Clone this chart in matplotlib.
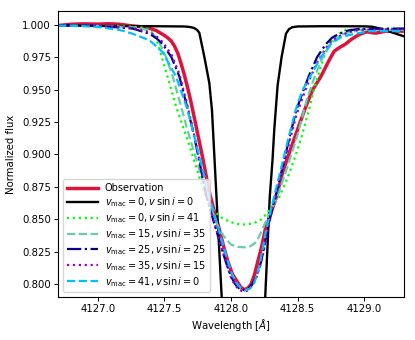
import matplotlib
matplotlib.use("Agg")
import matplotlib.pyplot as plt

# ---------------- data ----------------
wl_obs = [4126.70, 4126.80, 4126.90, 4127.00, 4127.08, 4127.16, 4127.26, 4127.33, 4127.387,
          4127.437, 4127.487, 4127.52, 4127.55, 4127.575, 4127.60, 4127.625, 4127.65, 4127.675,
          4127.70, 4127.737, 4127.787, 4127.837, 4127.875, 4127.912, 4127.945, 4127.975,
          4128.01, 4128.05, 4128.075, 4128.10, 4128.125, 4128.15, 4128.175, 4128.20, 4128.23,
          4128.257, 4128.30, 4128.337, 4128.387, 4128.43, 4128.475, 4128.52, 4128.563,
          4128.612, 4128.675, 4128.737, 4128.775, 4128.82, 4128.86, 4128.902, 4128.94,
          4128.977, 4129.022, 4129.06, 4129.09, 4129.14, 4129.187, 4129.24, 4129.30]
fl_obs = [0.9993, 1.0003, 1.0006, 1.0004, 1.0007, 1.0003, 0.9990, 0.9983, 0.9972,
          0.9955, 0.9925, 0.9902, 0.9875, 0.9835, 0.978, 0.970, 0.961, 0.951,
          0.940, 0.922, 0.8975, 0.871, 0.856, 0.8425, 0.829, 0.818,
          0.808, 0.8015, 0.7975, 0.7960, 0.7968, 0.800, 0.807, 0.817, 0.829,
          0.842, 0.855, 0.866, 0.886, 0.899, 0.912, 0.925, 0.937,
          0.9495, 0.960, 0.9725, 0.9795, 0.9827, 0.985, 0.9885, 0.991,
          0.993, 0.9945, 0.9938, 0.9935, 0.9945, 0.9952, 0.9950, 0.9950]

wl_m00_0 = [4126.70, 4127.00, 4127.40, 4127.65, 4127.69, 4127.72, 4127.745, 4127.762, 4127.80,
            4127.837, 4127.857, 4127.875, 4127.93, 4127.97, 4128.02, 4128.09, 4128.16, 4128.21,
            4128.257, 4128.291, 4128.312, 4128.325, 4128.350, 4128.38, 4128.413, 4128.435,
            4128.46, 4128.50, 4128.70, 4129.00, 4129.06, 4129.12, 4129.18, 4129.24, 4129.30]
fl_m00_0 = [0.9995, 0.999, 0.9988, 0.9986, 0.9982, 0.9975, 0.996, 0.9937, 0.975,
            0.955, 0.934, 0.8985, 0.79, 0.70, 0.60, 0.55, 0.60, 0.70,
            0.79, 0.867, 0.896, 0.919, 0.953, 0.975, 0.993, 0.9965,
            0.998, 0.9986, 0.9988, 0.9987, 0.9984, 0.997, 0.995, 0.993, 0.991]

wl_m00_41 = [4126.70, 4127.012, 4127.26, 4127.35, 4127.387, 4127.41, 4127.437, 4127.46, 4127.487,
             4127.537, 4127.587, 4127.650, 4127.700, 4127.725, 4127.76, 4127.800, 4127.835,
             4127.875, 4127.935, 4127.995, 4128.05, 4128.113, 4128.17, 4128.227, 4128.26,
             4128.300, 4128.362, 4128.425, 4128.488, 4128.537, 4128.587, 4128.625, 4128.670,
             4128.70, 4128.725, 4128.775, 4128.82, 4128.863, 4129.30]
fl_m00_41 = [0.9993, 0.999, 0.9985, 0.9975, 0.996, 0.9935, 0.989, 0.982, 0.9725,
             0.955, 0.937, 0.918, 0.903, 0.8945, 0.883, 0.870, 0.862,
             0.856, 0.851, 0.848, 0.8465, 0.846, 0.847, 0.850, 0.8535,
             0.859, 0.867, 0.882, 0.900, 0.916, 0.935, 0.951, 0.966,
             0.976, 0.9825, 0.990, 0.9935, 0.996, 0.997]

wl_m15_35 = [4126.70, 4127.012, 4127.26, 4127.34, 4127.387, 4127.43, 4127.462, 4127.512, 4127.562,
             4127.625, 4127.672, 4127.747, 4127.822, 4127.87, 4127.912, 4127.96, 4128.002,
             4128.05, 4128.113, 4128.15, 4128.182, 4128.21, 4128.235, 4128.287, 4128.347,
             4128.422, 4128.497, 4128.572, 4128.625, 4128.685, 4128.750, 4128.80, 4128.850,
             4128.962, 4129.30]
fl_m15_35 = [0.9993, 0.999, 0.998, 0.9968, 0.995, 0.991, 0.986, 0.975, 0.960,
             0.937, 0.919, 0.8935, 0.868, 0.853, 0.8425, 0.835, 0.8305,
             0.8288, 0.8285, 0.8295, 0.832, 0.8365, 0.8425, 0.854, 0.867,
             0.890, 0.914, 0.943, 0.959, 0.974, 0.985, 0.990, 0.993,
             0.996, 0.996]

wl_m25_25 = [4126.70, 4127.012, 4127.26, 4127.387, 4127.44, 4127.487, 4127.552, 4127.612, 4127.674,
             4127.717, 4127.762, 4127.812, 4127.850, 4127.887, 4127.925, 4127.962, 4128.00,
             4128.032, 4128.065, 4128.100, 4128.130, 4128.160, 4128.19, 4128.225, 4128.250,
             4128.272, 4128.300, 4128.332, 4128.392, 4128.437, 4128.490, 4128.550, 4128.587,
             4128.647, 4128.713, 4128.76, 4128.812, 4128.88, 4128.962, 4129.30]
fl_m25_25 = [0.9995, 0.999, 0.997, 0.993, 0.9895, 0.985, 0.975, 0.960, 0.935,
             0.917, 0.895, 0.869, 0.855, 0.8425, 0.829, 0.817, 0.806,
             0.800, 0.7965, 0.7955, 0.7965, 0.800, 0.806, 0.817, 0.829,
             0.841, 0.854, 0.867, 0.892, 0.912, 0.934, 0.951, 0.961,
             0.975, 0.985, 0.990, 0.993, 0.9955, 0.9967, 0.997]

wl_m35_15 = [4126.70, 4127.012, 4127.26, 4127.387, 4127.44, 4127.487, 4127.552, 4127.612, 4127.674,
             4127.717, 4127.762, 4127.812, 4127.850, 4127.887, 4127.925, 4127.962, 4128.00,
             4128.032, 4128.065, 4128.100, 4128.130, 4128.160, 4128.19, 4128.225, 4128.250,
             4128.272, 4128.300, 4128.332, 4128.392, 4128.437, 4128.490, 4128.550, 4128.587,
             4128.647, 4128.713, 4128.76, 4128.812, 4128.88, 4128.962, 4129.30]
fl_m35_15 = [0.9995, 0.999, 0.9975, 0.994, 0.991, 0.9865, 0.977, 0.962, 0.937,
             0.918, 0.896, 0.870, 0.856, 0.843, 0.829, 0.817, 0.805,
             0.799, 0.7955, 0.7942, 0.7955, 0.799, 0.805, 0.816, 0.828,
             0.840, 0.853, 0.866, 0.890, 0.909, 0.930, 0.947, 0.957,
             0.971, 0.982, 0.988, 0.991, 0.994, 0.996, 0.9965]

wl_m41_0 = [4126.70, 4126.862, 4127.012, 4127.162, 4127.26, 4127.387, 4127.485, 4127.587,
            4127.672, 4127.762, 4127.837, 4127.905, 4127.972, 4128.005, 4128.040, 4128.075,
            4128.107, 4128.140, 4128.175, 4128.212, 4128.240, 4128.265, 4128.325, 4128.385,
            4128.425, 4128.488, 4128.537, 4128.610, 4128.677, 4128.750, 4128.82, 4128.887,
            4129.037, 4129.30]
fl_m41_0 = [0.9993, 0.999, 0.998, 0.996, 0.993, 0.988, 0.979, 0.960,
            0.935, 0.8985, 0.868, 0.843, 0.819, 0.8085, 0.801, 0.797,
            0.7955, 0.7965, 0.801, 0.8135, 0.828, 0.8425, 0.868, 0.893,
            0.910, 0.935, 0.9495, 0.963, 0.975, 0.985, 0.990, 0.992,
            0.995, 0.995]

labels = ["Observation",
          r"$v_{\rm mac}=0, v\,\sin i=0$",
          r"$v_{\rm mac}=0, v\,\sin i=41$",
          r"$v_{\rm mac}=15, v\,\sin i=35$",
          r"$v_{\rm mac}=25, v\,\sin i=25$",
          r"$v_{\rm mac}=35, v\,\sin i=15$",
          r"$v_{\rm mac}=41, v\,\sin i=0$"]
xticks = [4127.0, 4127.5, 4128.0, 4128.5, 4129.0]
yticks = [0.800, 0.825, 0.850, 0.875, 0.900, 0.925, 0.950, 0.975, 1.000]

# ---------------- plot ----------------
plt.rcParams['font.family'] = ['DejaVu Sans']
fs = 7.3
fig = plt.figure(figsize=(4.15, 3.4), dpi=100)
ax = fig.add_axes([0.1398, 0.1256, 0.9735 - 0.1398, 0.9676 - 0.1256])

ax.plot(wl_obs, fl_obs, color='crimson', lw=2.5, label=labels[0])
ax.plot(wl_m00_0, fl_m00_0, color='black', lw=1.7, label=labels[1])
ax.plot(wl_m00_41, fl_m00_41, color='lime', lw=1.6, ls=':', label=labels[2])
ax.plot(wl_m15_35, fl_m15_35, color='mediumaquamarine', lw=1.6, ls='--', label=labels[3])
ax.plot(wl_m25_25, fl_m25_25, color='navy', lw=1.6, ls='-.', label=labels[4])
ax.plot(wl_m35_15, fl_m35_15, color='darkviolet', lw=1.6, ls=':', label=labels[5])
ax.plot(wl_m41_0, fl_m41_0, color='deepskyblue', lw=1.6, ls='--', label=labels[6])

ax.set_xlim(4126.7, 4129.3)
ax.set_ylim(0.79, 1.0105)
ax.set_xticks(xticks)
ax.set_xticklabels([f"{t:.1f}" for t in xticks], fontsize=fs)
ax.set_yticks(yticks)
ax.set_yticklabels([f"{t:.3f}" for t in yticks], fontsize=fs)
ax.set_xlabel(r"Wavelength [$\AA$]", fontsize=fs, labelpad=2)
ax.set_ylabel("Normalized flux", fontsize=fs, labelpad=4)
ax.tick_params(length=3, width=0.7, pad=2)
for s in ax.spines.values():
    s.set_linewidth(0.8)

ax.legend(loc='lower left', fontsize=7.0, handlelength=3.2, handletextpad=0.7,
          labelspacing=0.22, borderpad=0.4, borderaxespad=0.5, framealpha=0.8)

fig.savefig("out.png", dpi=100)
